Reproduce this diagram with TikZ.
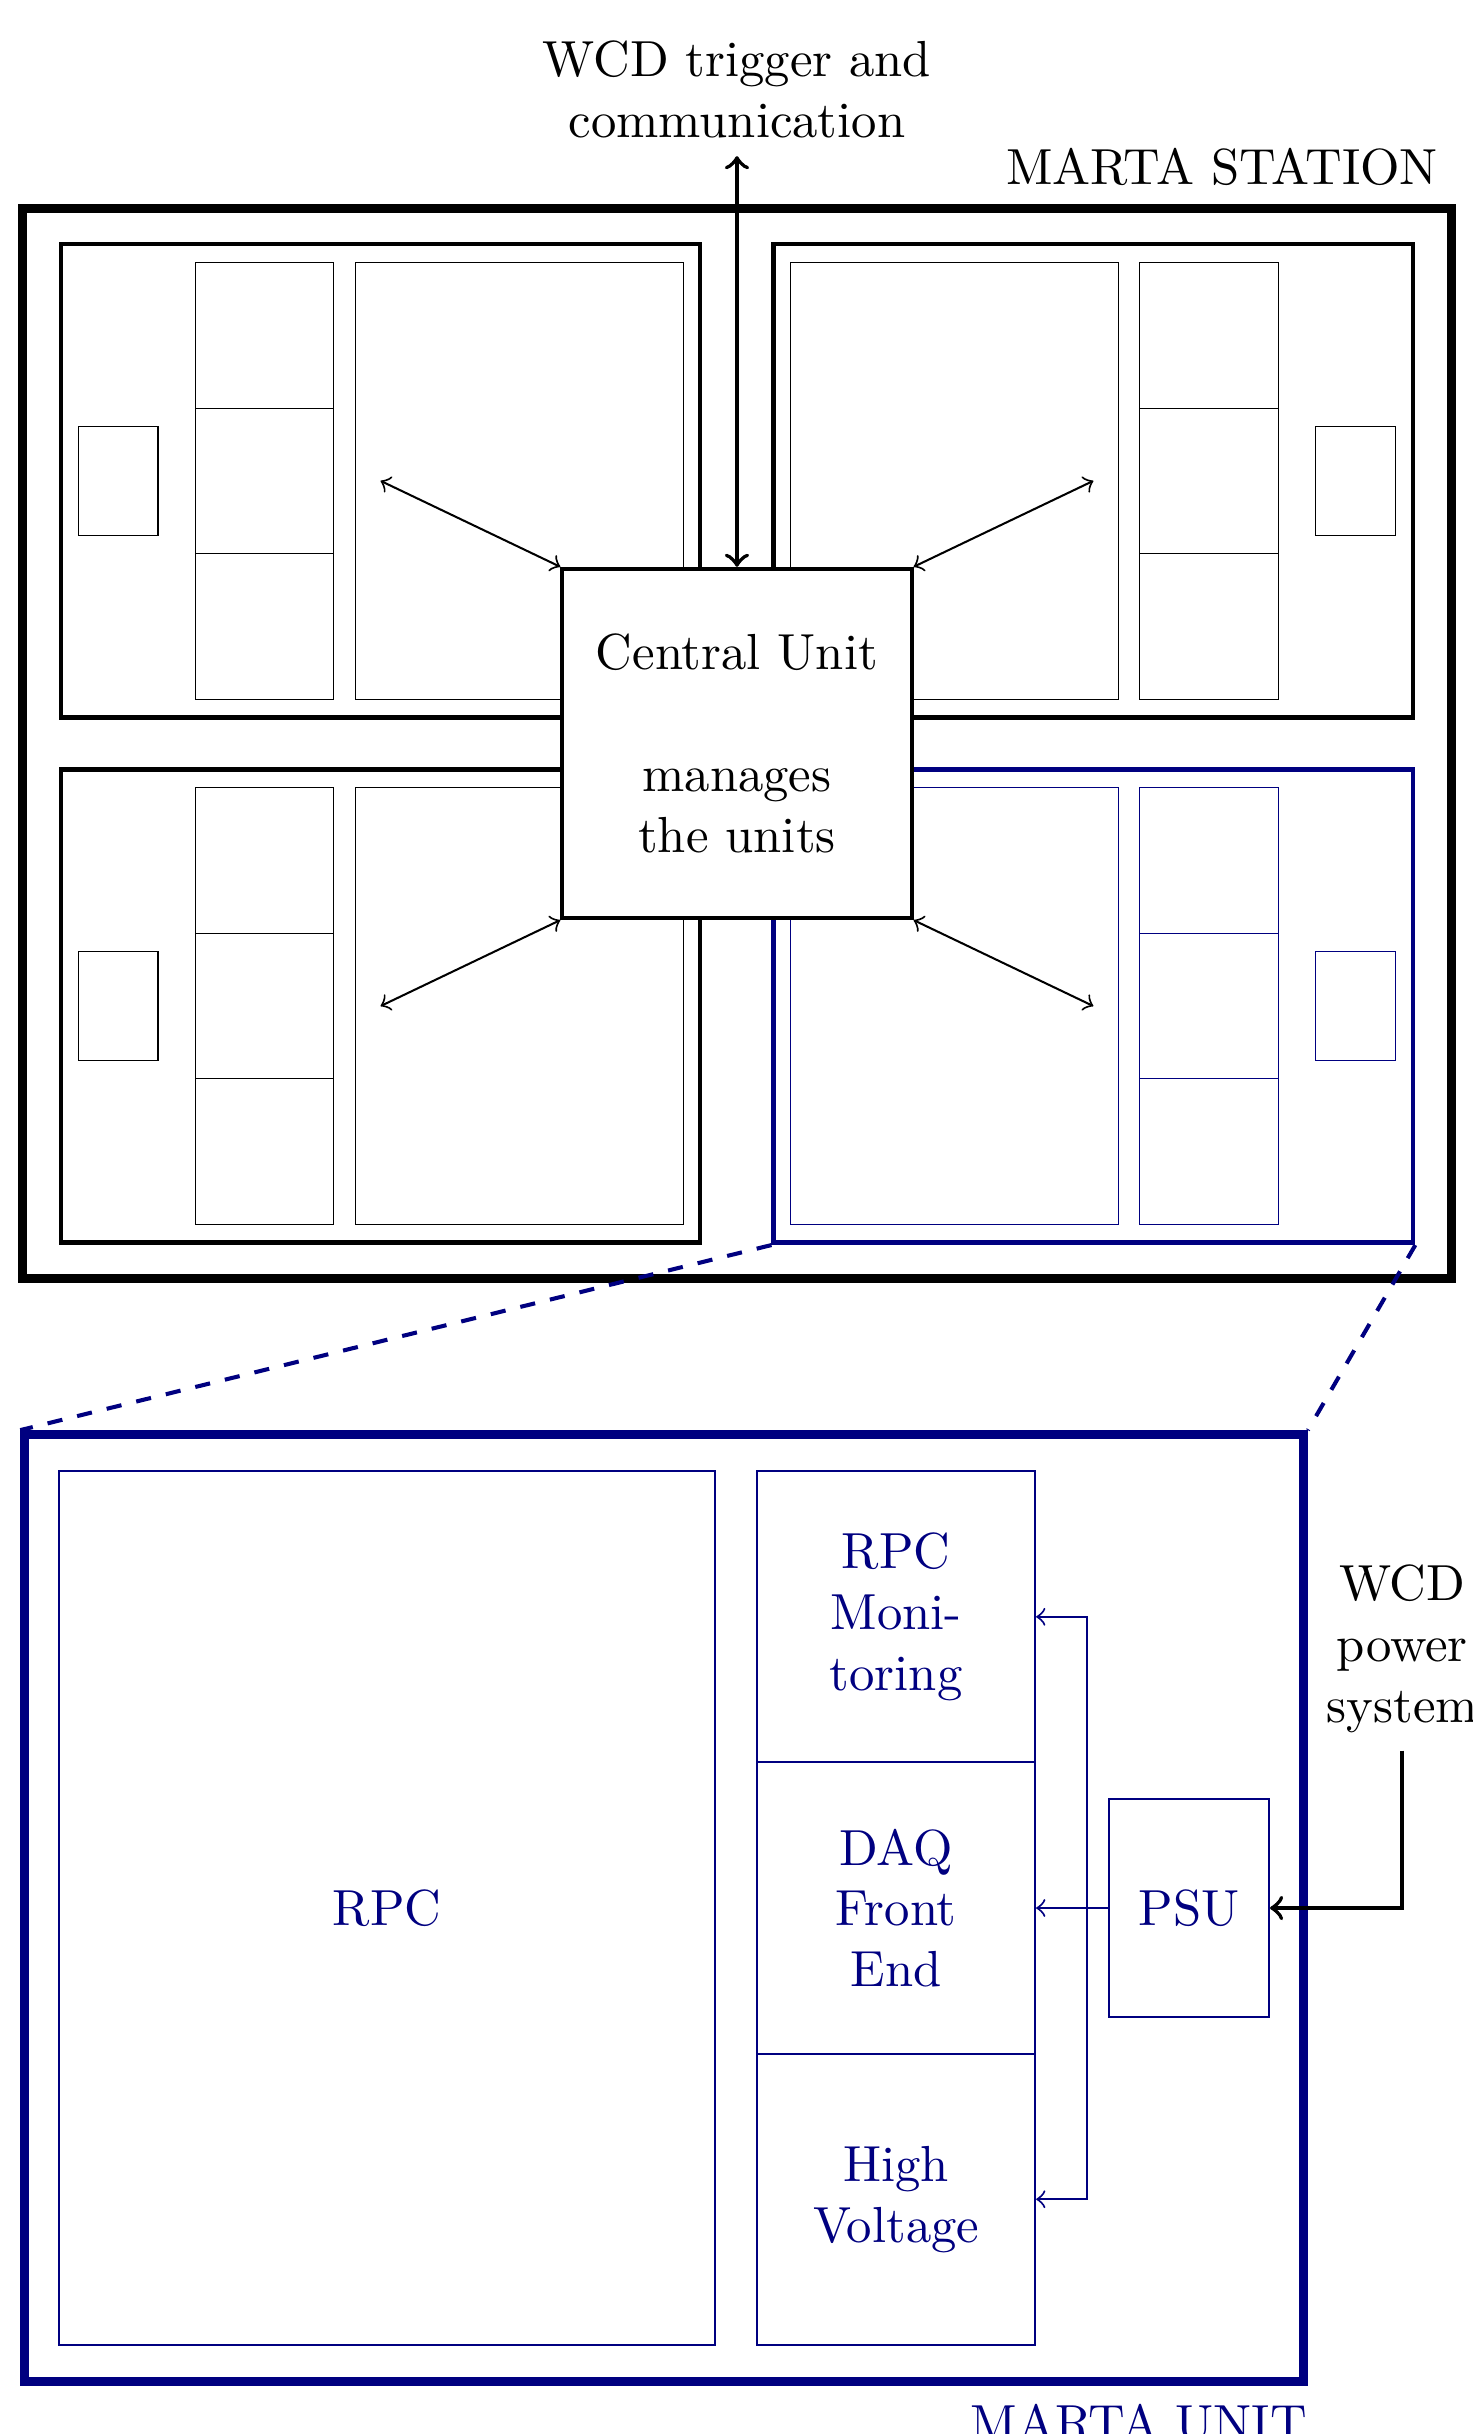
\documentclass[tikz,border=0pt]{standalone}
\usetikzlibrary{positioning}

\colorlet{unitblue}{blue!50!black}

\tikzset{
  box/.style={draw, inner sep=0pt},
  link/.style={<->},
  feed/.style={->, thick},
}

% one MARTA unit: name, centre, mirror (1 or -1), size factor, colour
\newcommand{\martaunit}[5]{%
  \begin{scope}[shift={#2}, xscale=#3, scale=#4, #5]
    \node[box, line width=#4*0.9pt, minimum width=#4*4.43cm, minimum height=#4*3.28cm] (#1) at (0,0) {};
    \node[box, line width=#4*0.2pt, minimum width=#4*0.554cm, minimum height=#4*0.755cm] (#1-psu) at (-1.819,0) {};
    \foreach \k/\y in {1/1.009,2/0,3/-1.009}
      \node[box, line width=#4*0.2pt, minimum width=#4*0.963cm, minimum height=#4*1.009cm] (#1-c\k) at (-0.804,\y) {};
    \node[box, line width=#4*0.2pt, minimum width=#4*2.273cm, minimum height=#4*3.028cm] (#1-rpc) at (0.96,0) {};
  \end{scope}}

\begin{document}
\begin{tikzpicture}
  \useasboundingbox (-5.107,-11.715) rectangle (5.1,5.152);
  \node[box, line width=1.8pt, minimum width=9.9cm, minimum height=7.42cm] (station) at (0,0) {};
  \node[above left] (stationlabel) at (station.north east) {MARTA STATION};

  \martaunit{tl}{(-2.47,1.82)}{1}{1}{black}
  \martaunit{tr}{(2.47,1.82)}{-1}{1}{black}
  \martaunit{bl}{(-2.47,-1.82)}{1}{1}{black}
  \martaunit{br}{(2.47,-1.82)}{-1}{1}{unitblue}

  \node[box, thick, fill=white, minimum size=2.42cm, align=center] (cu) at (0,0) {Central Unit\\[\baselineskip]manages\\the units};
  \foreach \u/\a in {tl/north west, tr/north east, bl/south west, br/south east}
    \draw[link] (cu.\a) -- (\u.center);
  \node[align=center, anchor=south] (wcdcom) at (0,4.07) {WCD trigger and\\communication};
  \draw[link, thick] (cu.north) -- (wcdcom.south);

  % zoom on the blue unit
  \martaunit{det}{(-0.505,-8.07)}{-1}{2}{unitblue}
  \draw[unitblue, thick, dashed] (br.south west) -- (det.north west);
  \draw[unitblue, thick, dashed] (br.south east) -- (det.north east);
  \node[below left, inner xsep=0pt, text=unitblue] (unitlabel) at (det.south east) {MARTA UNIT};

  \node[text=unitblue] (rpctxt) at (det-rpc) {RPC};
  \node[text=unitblue, align=center] (montxt) at (det-c1) {RPC\\Moni-\\toring};
  \node[text=unitblue, align=center] (daqtxt) at (det-c2) {DAQ\\Front\\End};
  \node[text=unitblue, align=center] (hvtxt) at (det-c3) {High\\Voltage};
  \node[text=unitblue] (psutxt) at (det-psu) {PSU};
  \draw[unitblue, ->] (det-psu.west) -- (det-c2.east);
  \draw[unitblue, <->] (det-c1.east) -- ++(0.35,0) |- (det-c3.east);

  \node[align=center, anchor=south] (wcdpow) at (4.61,-6.98) {WCD\\power\\system};
  \draw[feed] (wcdpow.south) |- (det-psu.east);
\end{tikzpicture}
\end{document}
